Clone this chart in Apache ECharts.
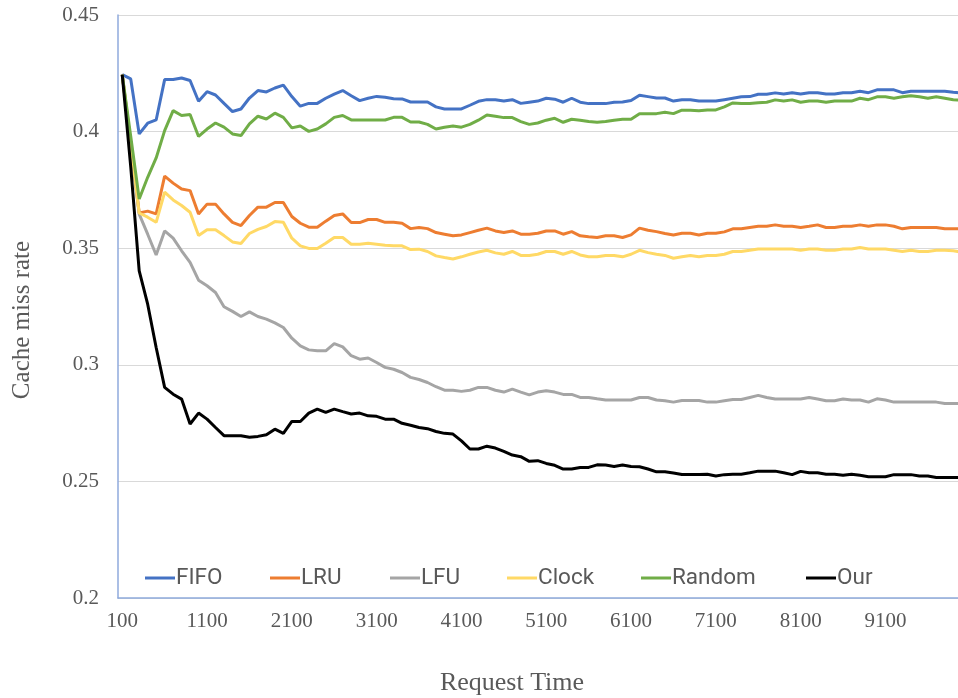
<!DOCTYPE html>
<html>
<head>
    <meta charset="UTF-8">
    <title>Cache miss rate</title>
    <script src="https://cdn.jsdelivr.net/npm/echarts@6/dist/echarts.min.js"></script>
    <style>
        html, body { margin: 0; padding: 0; overflow: hidden; background: #fff; }
        /* the plot runs a little past the right edge, as in the original */
        #chart { width: 966px; height: 698px; }
    </style>
</head>
<body>
    <div id="chart"></div>
    <script>
        // request times 100 .. 10000, one point every 100
        var requestTimes = [];
        for (var t = 100; t <= 10000; t += 100) requestTimes.push(String(t));

        var names = ['FIFO', 'LRU', 'LFU', 'Clock', 'Random', 'Our'];

        var fifo = [0.4244, 0.4226, 0.399, 0.4036, 0.405, 0.4223, 0.4223, 0.423, 0.4219, 0.413,
            0.4171, 0.4157, 0.4121, 0.4086, 0.4097, 0.4144, 0.4176, 0.417, 0.4187, 0.4199,
            0.415, 0.4109, 0.4121, 0.4121, 0.4143, 0.4161, 0.4176, 0.4154, 0.4133, 0.4143,
            0.4151, 0.4147, 0.4141, 0.414, 0.4127, 0.4127, 0.4127, 0.4106, 0.4097, 0.4097,
            0.4097, 0.4113, 0.413, 0.4137, 0.4137, 0.4131, 0.4137, 0.4121, 0.4126, 0.4131,
            0.4143, 0.4139, 0.4126, 0.4143, 0.4126, 0.412, 0.412, 0.412, 0.4126, 0.4127,
            0.4133, 0.4156, 0.415, 0.4144, 0.4144, 0.4131, 0.4137, 0.4137, 0.4131, 0.4131,
            0.4131, 0.4137, 0.4143, 0.4149, 0.415, 0.416, 0.416, 0.4166, 0.4161, 0.4167,
            0.4161, 0.4167, 0.4167, 0.4161, 0.4161, 0.4167, 0.4167, 0.4173, 0.4167, 0.4179,
            0.4179, 0.4179, 0.4167, 0.4173, 0.4173, 0.4173, 0.4173, 0.4173, 0.4169, 0.4166];

        var lru = [0.4244, 0.395, 0.3651, 0.3659, 0.3647, 0.3809, 0.3779, 0.3754, 0.3747, 0.3647,
            0.3689, 0.3689, 0.3647, 0.3611, 0.3597, 0.364, 0.3676, 0.3676, 0.3696, 0.3696,
            0.3636, 0.3607, 0.359, 0.359, 0.3616, 0.364, 0.3647, 0.361, 0.361, 0.3623,
            0.3623, 0.3611, 0.3611, 0.3607, 0.3584, 0.3589, 0.3584, 0.3567, 0.356, 0.3553,
            0.3557, 0.3567, 0.3577, 0.3586, 0.3574, 0.3567, 0.3574, 0.356, 0.356, 0.3564,
            0.3574, 0.3574, 0.356, 0.3571, 0.3553, 0.3549, 0.3546, 0.3553, 0.3553, 0.3546,
            0.3557, 0.3586, 0.3577, 0.3571, 0.3563, 0.3557, 0.3564, 0.3564, 0.3557, 0.3564,
            0.3564, 0.357, 0.3583, 0.3583, 0.3589, 0.3594, 0.3594, 0.36, 0.3594, 0.3594,
            0.3589, 0.3594, 0.36, 0.3589, 0.3589, 0.3594, 0.3594, 0.36, 0.3594, 0.36,
            0.36, 0.3594, 0.3583, 0.3589, 0.3589, 0.3589, 0.3589, 0.3583, 0.3583, 0.3583];

        var lfu = [0.4244, 0.394, 0.3646, 0.356, 0.3471, 0.3574, 0.3543, 0.3489, 0.3439, 0.3363,
            0.3339, 0.331, 0.3249, 0.3229, 0.3207, 0.3227, 0.3207, 0.3196, 0.318, 0.316,
            0.3114, 0.3081, 0.3064, 0.306, 0.306, 0.3091, 0.3077, 0.3039, 0.3024, 0.3029,
            0.301, 0.2989, 0.2981, 0.2967, 0.2946, 0.2937, 0.2924, 0.2906, 0.2891, 0.2891,
            0.2886, 0.2891, 0.2903, 0.2903, 0.2891, 0.2883, 0.2896, 0.2883, 0.2871, 0.2883,
            0.2889, 0.2883, 0.2873, 0.2873, 0.286, 0.286, 0.2854, 0.2849, 0.2849, 0.2849,
            0.2849, 0.286, 0.286, 0.2849, 0.2846, 0.284, 0.2847, 0.2847, 0.2847, 0.284,
            0.284, 0.2846, 0.2851, 0.2851, 0.286, 0.2869, 0.286, 0.2853, 0.2853, 0.2853,
            0.2853, 0.286, 0.2853, 0.2846, 0.2846, 0.2853, 0.2849, 0.2849, 0.284, 0.2854,
            0.2849, 0.284, 0.284, 0.284, 0.284, 0.284, 0.284, 0.2834, 0.2834, 0.2834];

        var clock = [0.4244, 0.395, 0.3651, 0.3633, 0.3611, 0.374, 0.3707, 0.3683, 0.3654, 0.3554,
            0.3579, 0.3579, 0.3554, 0.3527, 0.352, 0.3563, 0.3581, 0.3593, 0.3614, 0.3611,
            0.3543, 0.351, 0.3499, 0.3499, 0.3521, 0.3546, 0.3546, 0.3517, 0.3517, 0.3521,
            0.3517, 0.3513, 0.351, 0.351, 0.3494, 0.3496, 0.3486, 0.3467, 0.346, 0.3454,
            0.3463, 0.3474, 0.3484, 0.3491, 0.348, 0.3474, 0.3486, 0.3469, 0.3469, 0.3474,
            0.3486, 0.3486, 0.3474, 0.3486, 0.3471, 0.3463, 0.3463, 0.3469, 0.3469, 0.3463,
            0.3474, 0.3491, 0.3481, 0.3474, 0.3469, 0.3457, 0.3463, 0.3469, 0.3463, 0.3469,
            0.3469, 0.3474, 0.3486, 0.3486, 0.3491, 0.3497, 0.3497, 0.3497, 0.3497, 0.3497,
            0.3491, 0.3497, 0.3497, 0.3491, 0.3491, 0.3497, 0.3497, 0.3503, 0.3497, 0.3497,
            0.3497, 0.3491, 0.3486, 0.3491, 0.3486, 0.3486, 0.3491, 0.3491, 0.3489, 0.3483];

        var random = [0.4244, 0.398, 0.3711, 0.3804, 0.3887, 0.4004, 0.409, 0.4069, 0.4073, 0.3979,
            0.4011, 0.4037, 0.4019, 0.399, 0.3983, 0.4033, 0.4066, 0.4054, 0.4079, 0.4061,
            0.4016, 0.4024, 0.4001, 0.4011, 0.4033, 0.4061, 0.4069, 0.405, 0.405, 0.405,
            0.405, 0.405, 0.4061, 0.4061, 0.4041, 0.4041, 0.4031, 0.4011, 0.4019, 0.4024,
            0.4019, 0.4031, 0.4049, 0.4071, 0.4066, 0.406, 0.406, 0.4043, 0.4031, 0.4037,
            0.4049, 0.4057, 0.404, 0.4053, 0.4049, 0.4043, 0.404, 0.4043, 0.4049, 0.4053,
            0.4053, 0.4077, 0.4077, 0.4077, 0.4083, 0.4077, 0.4092, 0.4092, 0.4089, 0.4093,
            0.4093, 0.4106, 0.4123, 0.412, 0.412, 0.4124, 0.4126, 0.4136, 0.4131, 0.4136,
            0.4126, 0.4131, 0.4131, 0.4126, 0.4131, 0.4131, 0.4131, 0.4143, 0.4137, 0.4149,
            0.4149, 0.4143, 0.4149, 0.4154, 0.4149, 0.4143, 0.4149, 0.4143, 0.4137, 0.4134];

        var our = [0.4244, 0.385, 0.3403, 0.326, 0.3074, 0.2903, 0.2874, 0.2853, 0.2746, 0.2793,
            0.2767, 0.2731, 0.2696, 0.2696, 0.2696, 0.2689, 0.2693, 0.27, 0.2724, 0.2706,
            0.2757, 0.2757, 0.2793, 0.281, 0.2796, 0.281, 0.2799, 0.2789, 0.2793, 0.2781,
            0.2779, 0.2767, 0.2767, 0.2749, 0.2741, 0.2731, 0.2726, 0.2714, 0.2706, 0.2703,
            0.2674, 0.2639, 0.2639, 0.2651, 0.2643, 0.2629, 0.2613, 0.2606, 0.2586, 0.2589,
            0.2577, 0.2569, 0.2553, 0.2553, 0.256, 0.256, 0.2571, 0.257, 0.2564, 0.257,
            0.2564, 0.2563, 0.2553, 0.2541, 0.2541, 0.2536, 0.253, 0.253, 0.253, 0.2531,
            0.2523, 0.2529, 0.2531, 0.2531, 0.2537, 0.2544, 0.2544, 0.2544, 0.2537, 0.2529,
            0.2543, 0.2537, 0.2537, 0.2531, 0.2531, 0.2526, 0.2531, 0.2526, 0.252, 0.252,
            0.252, 0.2529, 0.2529, 0.2529, 0.2523, 0.2523, 0.2517, 0.2517, 0.2517, 0.2517];

        var values = [fifo, lru, lfu, clock, random, our];
        var colors = ['#4472C4', '#ED7D31', '#A5A5A5', '#FFD966', '#70AD47', '#000000'];
        // Excel spaces its legend entries unevenly, so every entry gets its own legend
        var legendLeft = [145, 270, 390, 507, 641, 806];

        var serif = '"Liberation Serif", "Times New Roman", serif';
        var sans = '"Roboto", "Liberation Sans", sans-serif';

        var chart = echarts.init(document.getElementById('chart'));

        var option = {
            animation: false,
            backgroundColor: '#fff',
            color: colors,
            grid: { left: 118, right: 0, top: 15, bottom: 100 },
            legend: names.map(function (n, i) {
                return {
                    data: [n],
                    left: legendLeft[i],
                    top: 566,
                    icon: 'rect',
                    itemWidth: 30,
                    itemHeight: 3,
                    selectedMode: false,
                    padding: 0,
                    textStyle: {
                        fontFamily: sans,
                        fontSize: 22.5,
                        color: '#595959',
                        lineHeight: 24,
                        padding: [0, 0, 0, -4]
                    }
                };
            }),
            xAxis: {
                type: 'category',
                data: requestTimes,
                boundaryGap: true,
                axisLine: { lineStyle: { color: '#8FAADC', width: 1.5 } },
                axisTick: { show: false },
                axisLabel: {
                    interval: 9,
                    margin: 13,
                    fontFamily: serif,
                    fontSize: 21,
                    color: '#595959'
                },
                splitLine: { show: false }
            },
            yAxis: {
                type: 'value',
                min: 0.2,
                max: 0.45,
                interval: 0.05,
                axisLine: { show: true, lineStyle: { color: '#8FAADC', width: 1.5 } },
                axisTick: { show: false },
                axisLabel: {
                    margin: 19,
                    fontFamily: serif,
                    fontSize: 21,
                    color: '#595959'
                },
                splitLine: { lineStyle: { color: '#D9D9D9', width: 1 } }
            },
            graphic: [
                {
                    type: 'text',
                    x: 22,
                    y: 320,
                    rotation: Math.PI / 2,
                    style: {
                        text: 'Cache miss rate',
                        font: '25px ' + serif,
                        fill: '#595959',
                        textAlign: 'center',
                        textVerticalAlign: 'middle'
                    }
                },
                {
                    type: 'text',
                    x: 512,
                    y: 683,
                    style: {
                        text: 'Request Time',
                        font: '26px ' + serif,
                        fill: '#595959',
                        textAlign: 'center',
                        textVerticalAlign: 'middle'
                    }
                }
            ],
            series: names.map(function (n, i) {
                return {
                    name: n,
                    type: 'line',
                    data: values[i],
                    symbol: 'none',
                    lineStyle: { width: 3, color: colors[i] },
                    itemStyle: { color: colors[i] }
                };
            })
        };

        chart.setOption(option);
    </script>
</body>
</html>
